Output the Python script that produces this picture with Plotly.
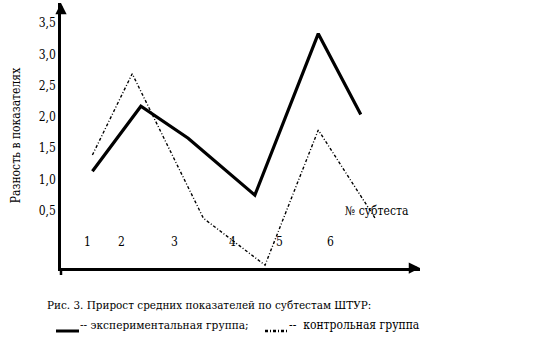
import plotly.graph_objects as go

# Data
exp_x = [1.05, 2.67, 4.25, 6.48, 8.60, 10.02]
exp_y = [1.13, 2.17, 1.66, 0.75, 3.33, 2.04]
ctrl_x = [1.05, 2.38, 4.76, 6.82, 8.60, 10.50]
ctrl_y = [1.39, 2.69, 0.38, -0.37, 1.79, 0.38]
subtest_labels = ["1", "2", "3", "4", "5", "6"]
subtest_x = [0.87, 2.03, 3.81, 5.74, 7.32, 9.02]
ytick_vals = [0.5, 1.0, 1.5, 2.0, 2.5, 3.0, 3.5]
ytick_text = ["0,5", "1,0", "1,5", "2,0", "2,5", "3,0", "3,5"]

FONT = "DejaVu Serif Condensed, DejaVu Serif"
FS = 12

W, H = 541, 351
L, R, T, B = 61, 121, 3, 83
pw, ph = W - L - R, H - T - B


def px(x):
    return (x - L) / pw


def py(y):
    return (H - B - y) / ph


def f(size=FS):
    return dict(family=FONT, size=size, color="black")


fig = go.Figure()
fig.add_trace(go.Scatter(x=exp_x, y=exp_y, mode="lines",
                         line=dict(color="black", width=3.2),
                         name="экспериментальная группа", showlegend=False))
fig.add_trace(go.Scatter(x=ctrl_x, y=ctrl_y, mode="lines",
                         line=dict(color="black", width=1.4, dash="3px,2px,1px,2px"),
                         name="контрольная группа", showlegend=False))

annotations = []
for lab, xv in zip(subtest_labels, subtest_x):
    annotations.append(dict(x=xv, y=0, xref="x", yref="y", text=lab, showarrow=False, font=f()))
annotations.append(dict(x=10.57, y=0.5, xref="x", yref="y", text="№ субтеста",
                        showarrow=False, font=f()))
# axis arrows
annotations.append(dict(x=0, y=1, xref="paper", yref="paper", ax=0, ay=12, showarrow=True,
                        arrowhead=2, arrowsize=0.9, arrowwidth=2.5, arrowcolor="black", text=""))
annotations.append(dict(x=1, y=0, xref="paper", yref="paper", ax=-12, ay=0, showarrow=True,
                        arrowhead=2, arrowsize=0.9, arrowwidth=2.5, arrowcolor="black", text=""))
# caption
annotations.append(dict(x=px(45), y=py(305), xref="paper", yref="paper", xanchor="left",
                        yanchor="middle", showarrow=False,
                        text="Рис. 3. Прирост средних показателей по субтестам ШТУР:", font=f(11.6)))
annotations.append(dict(x=px(78), y=py(325), xref="paper", yref="paper", xanchor="left",
                        yanchor="middle", showarrow=False,
                        text="-- экспериментальная группа;", font=f(11.8)))
annotations.append(dict(x=px(287), y=py(325), xref="paper", yref="paper", xanchor="left",
                        yanchor="middle", showarrow=False,
                        text="--  контрольная группа", font=f(12)))

shapes = [
    dict(type="line", xref="paper", yref="paper", x0=px(56), x1=px(79), y0=py(331), y1=py(331),
         line=dict(color="black", width=3)),
    dict(type="line", xref="paper", yref="paper", x0=px(265), x1=px(288), y0=py(331), y1=py(331),
         line=dict(color="black", width=2.4, dash="3px,2px,1px,2px")),
    dict(type="line", xref="paper", yref="paper", x0=0, x1=0, y0=0, y1=py(275),
         line=dict(color="black", width=2.5)),
]

fig.update_layout(
    width=W, height=H,
    margin=dict(l=L, r=R, t=T, b=B, pad=0),
    paper_bgcolor="white", plot_bgcolor="white",
    font=f(),
    xaxis=dict(range=[0, 12], showline=True, linecolor="black", linewidth=2.5,
               showgrid=False, zeroline=False, showticklabels=False, ticks=""),
    yaxis=dict(range=[-0.415, 3.82], showline=True, linecolor="black", linewidth=2.5,
               showgrid=False, zeroline=False, tickvals=ytick_vals, ticktext=ytick_text,
               ticks="", tickfont=f(),
               title=dict(text="Разность в показателях", standoff=16, font=f())),
    annotations=annotations,
    shapes=shapes,
    showlegend=False,
)

fig.write_html("out.html")
